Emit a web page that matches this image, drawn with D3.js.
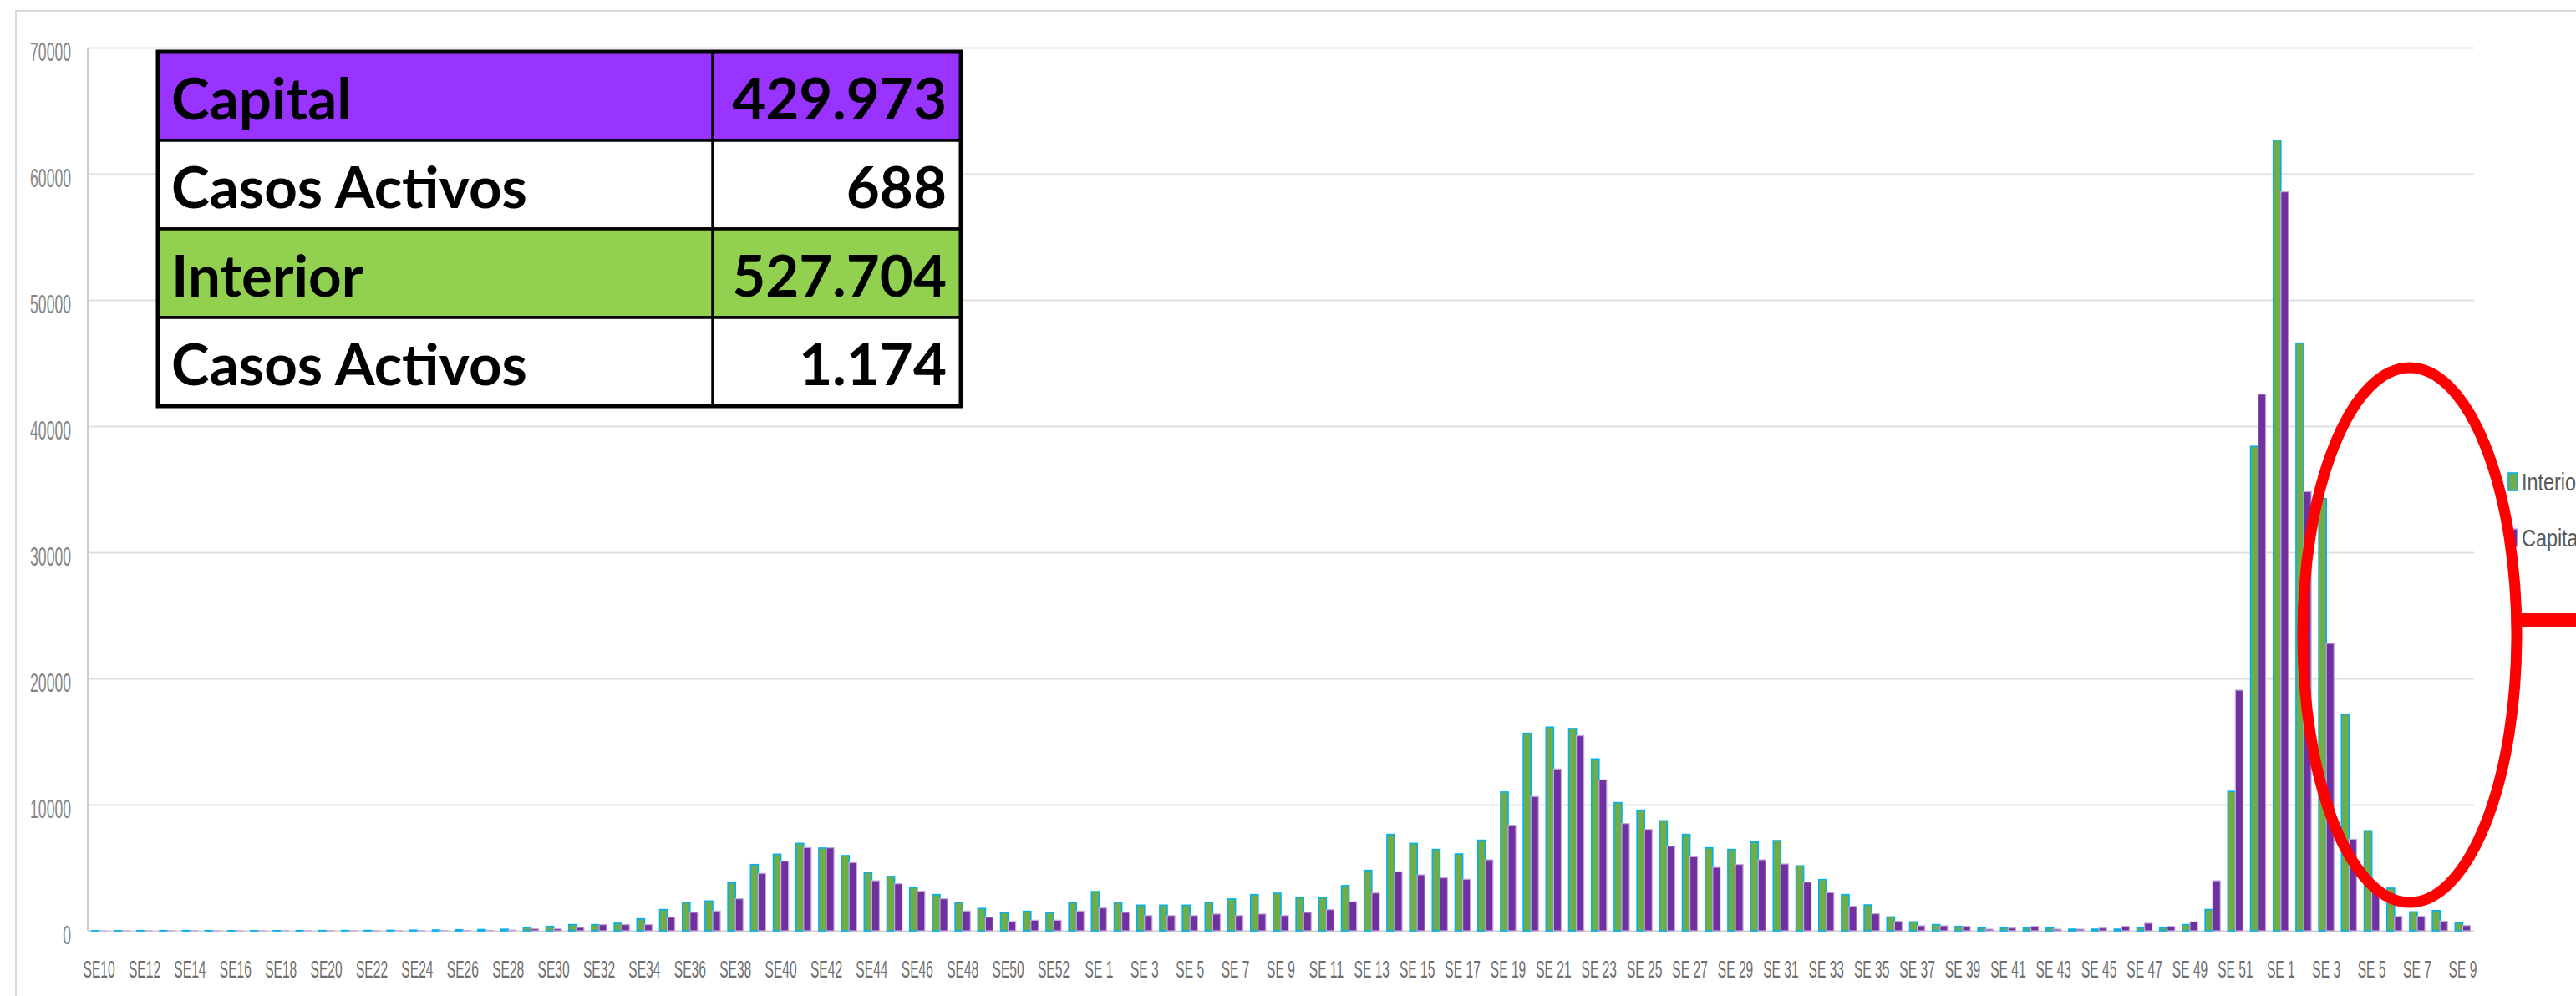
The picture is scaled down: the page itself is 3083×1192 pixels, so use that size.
<!DOCTYPE html>
<html>
<head>
<meta charset="utf-8">
<script src="https://cdn.jsdelivr.net/npm/d3@7"></script>
<style>
	body { margin: 0; background: #fff; overflow: hidden; }
	svg { display: block; }
</style>
</head>
<body>
<div id="graphic"></div>
<script>
// epidemiological weeks: 2020 (SE10-SE53), 2021 (SE 1-SE 52), 2022 (SE 1-SE 9)
const weeks = [
	"SE10","SE11","SE12","SE13","SE14","SE15","SE16","SE17","SE18","SE19",
	"SE20","SE21","SE22","SE23","SE24","SE25","SE26","SE27","SE28","SE29",
	"SE30","SE31","SE32","SE33","SE34","SE35","SE36","SE37","SE38","SE39",
	"SE40","SE41","SE42","SE43","SE44","SE45","SE46","SE47","SE48","SE49",
	"SE50","SE51","SE52","SE53",
	"SE 1","SE 2","SE 3","SE 4","SE 5","SE 6","SE 7","SE 8","SE 9","SE 10",
	"SE 11","SE 12","SE 13","SE 14","SE 15","SE 16","SE 17","SE 18","SE 19","SE 20",
	"SE 21","SE 22","SE 23","SE 24","SE 25","SE 26","SE 27","SE 28","SE 29","SE 30",
	"SE 31","SE 32","SE 33","SE 34","SE 35","SE 36","SE 37","SE 38","SE 39","SE 40",
	"SE 41","SE 42","SE 43","SE 44","SE 45","SE 46","SE 47","SE 48","SE 49","SE 50",
	"SE 51","SE 52",
	"SE 1","SE 2","SE 3","SE 4","SE 5","SE 6","SE 7","SE 8","SE 9"
];

const interior = [
	5, 8, 12, 18, 20, 15, 12, 10, 12, 15, 20, 25, 30, 40, 50, 65, 80,
	100, 120, 240, 350, 490, 490, 600, 950, 1680, 2250, 2360, 3820, 5250, 6070, 6930, 6560, 5960, 4640, 4310,
	3420, 2870, 2250, 1770, 1440, 1550, 1440, 2250, 3110, 2250, 2030, 2030, 2030, 2250, 2520, 2870, 2980, 2630, 2630,
	3580, 4790, 7640, 6930, 6450, 6090, 7180, 11000, 15650, 16140, 16030, 13620, 10160, 9560, 8720, 7640, 6580, 6450, 7040,
	7150, 5150, 4060, 2870, 2050, 1100, 710, 490, 350, 220, 220, 220, 220, 130, 130, 130, 220, 220, 490,
	1690, 11050, 38400, 62660, 46580, 34260, 17170, 7930, 3380, 1500, 1600, 630
];

const capital = [
	2, 3, 5, 8, 8, 6, 5, 4, 5, 6, 8, 10, 12, 15, 18, 22, 30,
	40, 60, 155, 155, 265, 490, 490, 490, 1080, 1460, 1570, 2540, 4550, 5520, 6600, 6580, 5410, 3970, 3730,
	3140, 2540, 1570, 1080, 730, 840, 840, 1570, 1810, 1460, 1210, 1210, 1210, 1330, 1210, 1330, 1210, 1460, 1680,
	2300, 3000, 4680, 4440, 4200, 4090, 5630, 8370, 10640, 12830, 15460, 11970, 8500, 8040, 6710, 5870, 5030, 5260, 5630,
	5300, 3860, 3030, 1940, 1350, 750, 400, 400, 350, 130, 220, 350, 130, 130, 220, 350, 600, 350, 710,
	3970, 19070, 42530, 58570, 34810, 22780, 7260, 3300, 1140, 1140, 760, 420
];

const series = ["Interior", "Capital"];
const yTicks = [0, 10000, 20000, 30000, 40000, 50000, 60000, 70000];

const tableLabels = ["Capital", "Casos Activos", "Interior", "Casos Activos"];
const tableValues = ["429.973", "688", "527.704", "1.174"];

const colours = { Interior: "#70AD47", Capital: "#7030A0" };
const outlines = { Interior: "#00B0F0", Capital: "#C4ACDA" };
const rowFills = ["#9933FF", "#ffffff", "#92D050", "#ffffff"];

const width = 3083, height = 1192;
const plot = { left: 105, right: 2961, top: 57, bottom: 1114 };

const svg = d3.select('#graphic')
	.append('svg')
	.attr('width', width)
	.attr('height', height);

// chart area frame
svg.append('rect')
	.attr('x', 19).attr('y', 13)
	.attr('width', 3300).attr('height', 1400)
	.attr('fill', 'none')
	.attr('stroke', '#d9d9d9')
	.attr('stroke-width', 2);

const x = d3.scaleBand()
	.domain(d3.range(weeks.length))
	.range([plot.left, plot.right]);

const x1 = d3.scaleBand()
	.domain(series)
	.range([0, x.bandwidth()])
	.paddingOuter(0.5);

const y = d3.scaleLinear()
	.domain([0, 70000])
	.range([plot.bottom, plot.top]);

// gridlines
svg.append('g')
	.attr('transform', 'translate(' + plot.left + ',0)')
	.call(d3.axisLeft(y).tickValues(yTicks).tickSize(-(plot.right - plot.left)).tickFormat(''))
	.call(g => g.select('.domain').remove())
	.selectAll('line')
	.attr('stroke', (d) => d == 0 ? '#d0d0d0' : '#e0e0e0')
	.attr('stroke-width', 2);

// left axis line
svg.append('line')
	.attr('x1', plot.left).attr('x2', plot.left)
	.attr('y1', plot.top).attr('y2', plot.bottom)
	.attr('stroke', '#cccccc')
	.attr('stroke-width', 2);

// y labels (narrow, tall text like the source)
svg.append('g')
	.selectAll('text')
	.data(yTicks)
	.join('text')
	.attr('transform', (d) => 'translate(85,' + (y(d) + 16) + ') scale(0.55,1)')
	.attr('text-anchor', 'end')
	.style('font-family', 'Liberation Sans, Arial, sans-serif')
	.style('font-size', '32px')
	.style('fill', '#858585')
	.text((d) => d3.format('d')(d));

// bars
const rows = weeks.map((w, i) => ({ i: i, Interior: interior[i], Capital: capital[i] }));

svg.append('g')
	.selectAll('g')
	.data(rows)
	.join('g')
	.attr('transform', (d) => 'translate(' + x(d.i) + ',0)')
	.selectAll('rect')
	.data((d) => series.map((s) => ({ s: s, v: d[s] })))
	.join('rect')
	.attr('x', (d) => x1(d.s))
	.attr('width', x1.bandwidth())
	.attr('y', (d) => y(d.v))
	.attr('height', (d) => y(0) - y(d.v))
	.attr('fill', (d) => colours[d.s])
	.attr('stroke', (d) => outlines[d.s])
	.attr('stroke-width', (d) => d.s === 'Interior' ? 1.6 : 1.2);

// x labels, every second week
svg.append('g')
	.selectAll('text')
	.data(rows.filter((d) => d.i % 2 === 0))
	.join('text')
	.attr('transform', (d) => 'translate(' + (x(d.i) + x.bandwidth() / 2) + ',1170) scale(0.52,1)')
	.attr('text-anchor', 'middle')
	.style('font-family', 'Liberation Sans, Arial, sans-serif')
	.style('font-size', '30px')
	.style('fill', '#6e6e6e')
	.text((d) => weeks[d.i]);

// legend
const legend = svg.append('g')
	.selectAll('g')
	.data(series)
	.join('g')
	.attr('transform', (d, i) => 'translate(3002,' + (566 + i * 67) + ')');

legend.append('rect')
	.attr('width', 11).attr('height', 21)
	.attr('fill', (d) => colours[d])
	.attr('stroke', (d) => outlines[d])
	.attr('stroke-width', 1.6);

legend.append('text')
	.attr('transform', 'translate(16,21) scale(0.78,1)')
	.style('font-family', 'Liberation Sans, Arial, sans-serif')
	.style('font-size', '30px')
	.style('fill', '#595959')
	.text((d) => d);

// red annotation ellipse and pointer
svg.append('ellipse')
	.attr('cx', 2884).attr('cy', 760)
	.attr('rx', 128).attr('ry', 320)
	.attr('fill', 'none')
	.attr('stroke', '#FF0000')
	.attr('stroke-width', 13);

svg.append('line')
	.attr('x1', 3010).attr('x2', 3090)
	.attr('y1', 742).attr('y2', 742)
	.attr('stroke', '#FF0000')
	.attr('stroke-width', 16);

// summary table
const table = { left: 189, mid: 853, right: 1150, top: 62, rowH: 106 };

const tbl = svg.append('g');

tbl.selectAll('rect.cell')
	.data(tableLabels)
	.join('rect')
	.attr('class', 'cell')
	.attr('x', table.left)
	.attr('y', (d, i) => table.top + i * table.rowH)
	.attr('width', table.right - table.left)
	.attr('height', table.rowH)
	.attr('fill', (d, i) => rowFills[i])
	.attr('stroke', '#000')
	.attr('stroke-width', 3.5);

tbl.append('line')
	.attr('x1', table.mid).attr('x2', table.mid)
	.attr('y1', table.top).attr('y2', table.top + 4 * table.rowH)
	.attr('stroke', '#000')
	.attr('stroke-width', 3.5);

tbl.append('rect')
	.attr('x', table.left).attr('y', table.top)
	.attr('width', table.right - table.left)
	.attr('height', 4 * table.rowH)
	.attr('fill', 'none')
	.attr('stroke', '#000')
	.attr('stroke-width', 5);

// measure to get the condensed width of the source font
const probe = tbl.append('text')
	.style('font-family', 'Lato, Open Sans, sans-serif')
	.style('font-weight', 700)
	.style('font-size', '68px')
	.text('Casos Activos');
const sx = 426 / probe.node().getComputedTextLength();
probe.remove();

tbl.selectAll('text.lab')
	.data(tableLabels)
	.join('text')
	.attr('class', 'lab')
	.attr('transform', (d, i) => 'translate(' + (table.left + 16) + ',' + (table.top + i * table.rowH + 81) + ') scale(' + sx + ',1)')
	.style('font-family', 'Lato, Open Sans, sans-serif')
	.style('font-weight', 700)
	.style('font-size', '68px')
	.style('fill', '#000')
	.text((d) => d);

tbl.selectAll('text.val')
	.data(tableValues)
	.join('text')
	.attr('class', 'val')
	.attr('transform', (d, i) => 'translate(' + (table.right - 17) + ',' + (table.top + i * table.rowH + 81) + ') scale(' + sx + ',1)')
	.attr('text-anchor', 'end')
	.style('font-family', 'Lato, Open Sans, sans-serif')
	.style('font-weight', 700)
	.style('font-size', '68px')
	.style('fill', '#000')
	.text((d) => d);
</script>
</body>
</html>
